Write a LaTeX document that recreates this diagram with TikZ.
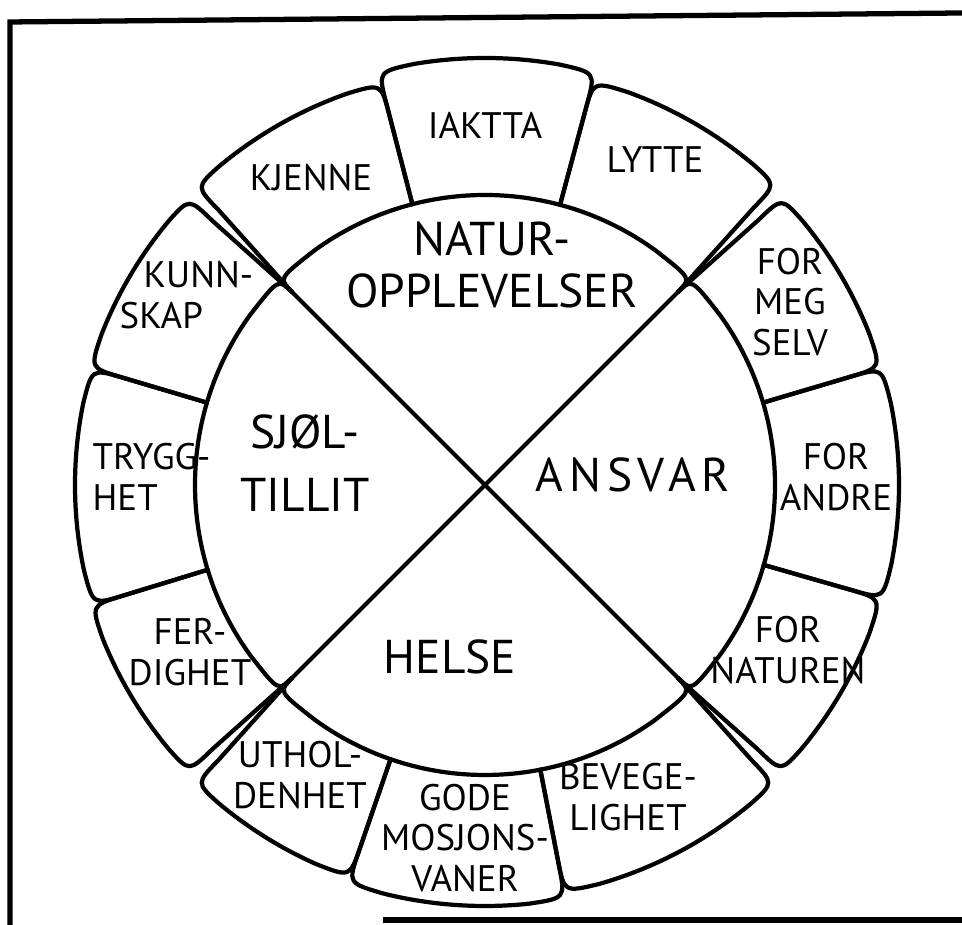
\documentclass[tikz,border=0pt]{standalone}
\usepackage{fontspec}
\setmainfont{PT Sans}
\usetikzlibrary{calc}

\begin{document}
\begin{tikzpicture}[
  petal/.style={draw=black, line width=1.2pt, line join=round, line cap=round},
  frame/.style={draw=black, line width=1.5pt},
  lbl/.style={font=\fontsize{10.5}{11.5}\selectfont, align=center, inner sep=0pt},
  big/.style={font=\fontsize{13.5}{15}\selectfont, align=center, inner sep=0pt}
]
\useasboundingbox (-4.85,-4.40) rectangle (4.77,4.85);

% open frame
\draw[frame] (-4.75,-4.40) -- (-4.75,4.63) -- (4.77,4.72);
\draw[frame] (-1.02,-4.35) -- (4.77,-4.35);

% outer ring: a1/a2/gap at a1/gap at a2/outer radius
\foreach \a/\b/\f/\g/\r in {75/104.5/0/0/4.27, 104.5/135/0/1/4.15, 135/163.5/1/0/4.12,
                            163.5/197/0/0/4.10, 197/225/0/1/4.12, 225/251/1/0/4.15,
                            251/281/0/0/4.21, 281/315/0/1/4.15, 315/344/1/0/4.12,
                            344/376.5/0/0/4.14, 16.5/45/0/1/4.13, 45/75/1/0/4.18}
  \draw[petal] ({\a}:{2.90-0.17*\f}) -- ({\a+0.9*\f}:{\r-0.32})
    .. controls ({\a+0.9*\f}:\r) .. ({\a+5}:\r)
    arc[start angle={\a+5}, end angle={\b-5}, radius=\r]
    .. controls ({\b-0.9*\g}:\r) .. ({\b-0.9*\g}:{\r-0.32})
    -- ({\b}:{2.90-0.17*\g});

% inner quarters
\foreach \q in {45,135,225,315}
  \draw[petal] (\q:2.73) .. controls (\q:2.92) .. ({\q+9}:2.90)
    arc[start angle={\q+9}, end angle={\q+81}, radius=2.90]
    .. controls ({\q+90}:2.92) .. ({\q+90}:2.73);
\draw[petal] (45:2.73) -- (225:2.73);
\draw[petal] (135:2.73) -- (315:2.73);

% centre labels
\node[big] (natur)  at (0.07,2.20)  {NATUR-\\OPPLEVELSER};
\node[big, font=\fontsize{13.5}{15}\selectfont\addfontfeatures{LetterSpace=12}] (ansvar) at (1.48,0.10) {ANSVAR};
\node[big] (helse)  at (-0.35,-1.72) {HELSE};
\node[big, font=\fontsize{13.5}{18}\selectfont] (sjol) at (-1.80,0.22) {SJØL-\\TILLIT};

% ring labels
\node[lbl] (iaktta)  at (0,3.60)      {IAKTTA};
\node[lbl] (lytte)   at (1.70,3.25)   {LYTTE};
\node[lbl] (meg)     at (3.05,1.83)   {FOR\\MEG\\SELV};
\node[lbl] (andre)   at (3.51,0.08)   {FOR\\ANDRE};
\node[lbl] (naturen) at (3.03,-1.65)  {FOR\\NATUREN};
\node[lbl] (bevege)  at (1.43,-3.12)  {BEVEGE-\\LIGHET};
\node[lbl] (gode)    at (-0.20,-3.53) {GODE\\MOSJONS-\\VANER};
\node[lbl] (uthol)   at (-1.85,-2.90) {UTHOL-\\DENHET};
\node[lbl] (ferdig)  at (-2.95,-1.67) {FER-\\DIGHET};
\node[lbl, anchor=west, align=left] (trygg) at (-3.93,0.08) {TRYGG-\\HET};
\node[lbl, anchor=west, align=left] (kunn) at (-3.66,1.90) {\hspace*{0.24cm}KUNN-\\SKAP};
\node[lbl] (kjenne)  at (-1.74,3.07)  {KJENNE};
\end{tikzpicture}
\end{document}
